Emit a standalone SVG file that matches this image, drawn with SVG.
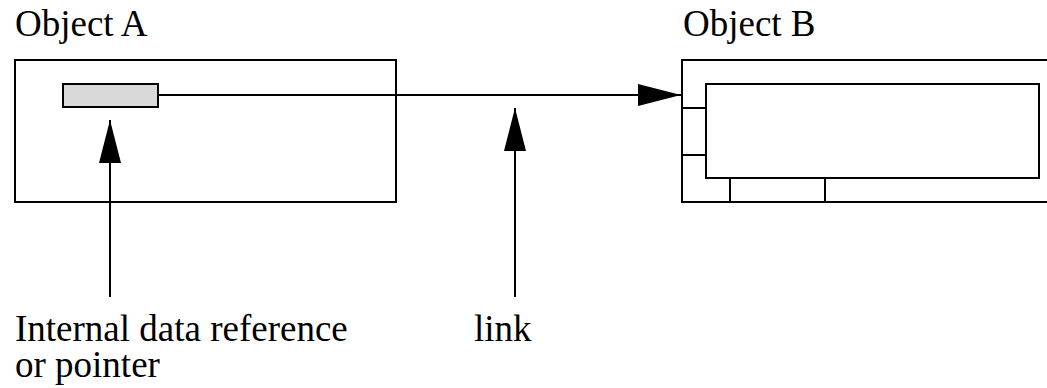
<svg xmlns="http://www.w3.org/2000/svg" width="1047" height="388" viewBox="0 0 1047 388">
<defs>
<style>
.box{fill:#fff;stroke:#000;stroke-width:2}
.ln{fill:none;stroke:#000;stroke-width:2}
.t{font-size:37px;fill:#000}
</style>
<marker id="ah" markerUnits="userSpaceOnUse" markerWidth="44" markerHeight="24" refX="43" refY="11" orient="auto" viewBox="0 0 44 22">
<path d="M0,0 L43,11 L0,22 Z" fill="#000"/>
</marker>
</defs>
<rect width="1047" height="388" fill="#fff"/>
<g font-family="'Liberation Serif', 'Times New Roman', serif">
<g id="objectA">
<text class="t" x="15" y="36">Object A</text>
<rect class="box" x="15" y="60" width="381" height="142"/>
<rect id="pointer" x="63" y="84" width="95" height="23" fill="#d9d9d9" stroke="#000" stroke-width="2"/>
</g>
<g id="objectB">
<text class="t" x="683" y="36">Object B</text>
<rect class="box" x="682" y="60" width="380" height="142"/>
<rect class="box" x="706" y="84" width="333" height="94"/>
<path class="ln" d="M682,108 H706 M682,155 H706 M730,178 V202 M825,178 V202"/>
</g>
<g id="connectors">
<line class="ln" x1="158" y1="95" x2="681" y2="95" marker-end="url(#ah)"/>
<line class="ln" x1="110" y1="297" x2="110" y2="120" marker-end="url(#ah)"/>
<line class="ln" x1="515" y1="297" x2="515" y2="108" marker-end="url(#ah)"/>
</g>
<g id="labels">
<text class="t" x="15" y="341">Internal data reference</text>
<text class="t" x="15" y="377">or pointer</text>
<text class="t" x="474" y="341">link</text>
</g>
</g>
</svg>
